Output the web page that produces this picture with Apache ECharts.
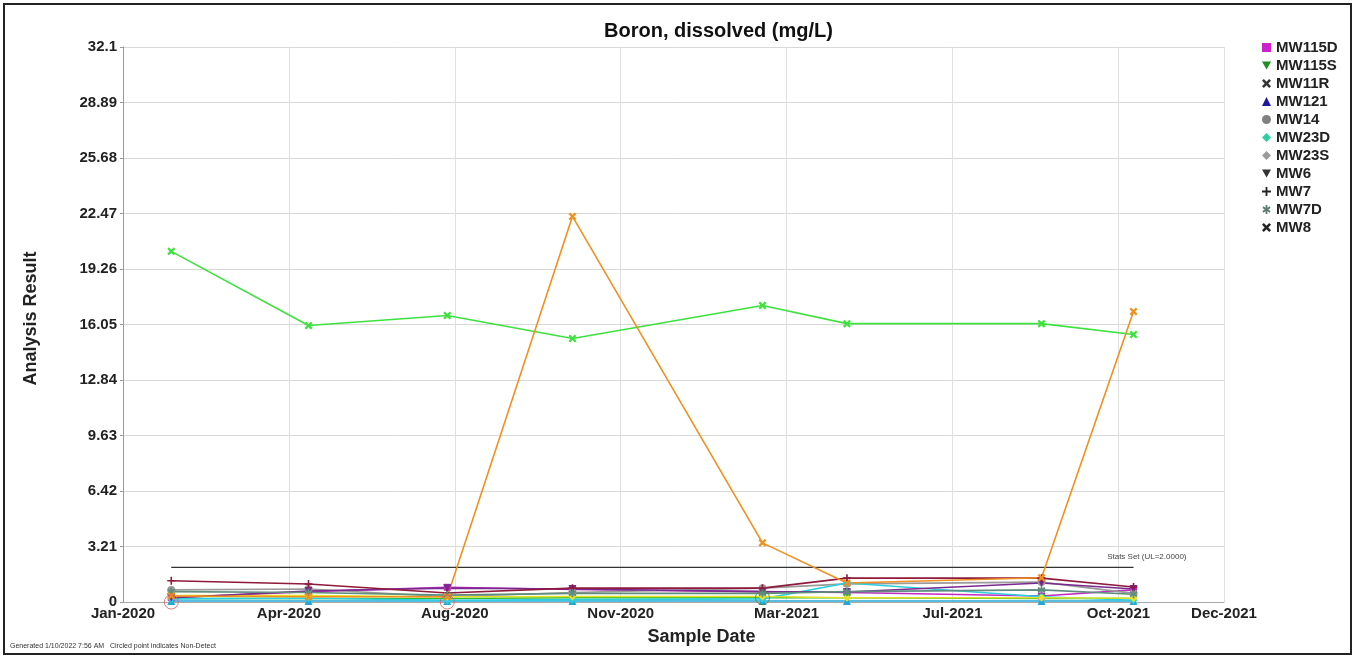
<!DOCTYPE html>
<html>
<head>
<meta charset="utf-8">
<script src="https://cdn.jsdelivr.net/npm/echarts@6/dist/echarts.min.js"></script>
<style>
  html, body { margin: 0; padding: 0; background: #fff; }
  #chart { width: 1355px; height: 658px; }
</style>
</head>
<body>
<div id="chart"></div>
<script>
  // sample dates (x axis), one value per date in each well
  const sampleDates = ['2020-02-02', '2020-05-03', '2020-08-03', '2020-10-25', '2021-02-28', '2021-04-25', '2021-09-01', '2021-11-01']

  const mw115d = [0.25, 0.6, 0.85, 0.72, 0.6, 0.55, 0.35, 0.7]
  const mw115s = [0.2, 0.2, 0.2, 0.25, 0.25, 0.25, 0.2, 0.2]
  const mw11r = [20.28, 15.99, 16.57, 15.24, 17.15, 16.1, 16.1, 15.47]
  const mw121 = [0.06, 0.06, 0.06, 0.06, 0.06, 0.06, 0.06, 0.06]
  const mw14 = [0.7, 0.75, 0.3, 0.55, 0.8, 1.05, 1.15, 0.5]
  const mw23d = [0.18, 0.22, 0.1, 0.14, 0.18, 1.1, 0.3, 0.1]
  const mw23s = [0.38, 0.38, 0.3, 0.32, 0.32, 0.25, 0.25, 0.22]
  const mw6 = [0.25, 0.64, 0.8, 0.75, 0.6, 0.58, 1.1, 0.75]
  const mw7 = [1.23, 1.04, 0.52, 0.8, 0.8, 1.38, 1.38, 0.87]
  const mw7d = [0.6, 0.55, 0.4, 0.5, 0.5, 0.6, 0.7, 0.45]
  const mw8 = [0.35, 0.3, 0.3, 22.3, 3.42, 1.1, 1.4, 16.8]

  // circled points = non-detects [date index, value]
  const nonDetects = [[0, 0], [2, 0], [4, 0.25]]
  const nonDetectColors = ['#e05a5a', '#e05a5a', '#5a7a3a']
  const statsLimit = 2.0

  const yMax = 32.1
  const yStep = 3.21

  const DAY = 86400000
  const xMin = Date.UTC(2020, 0, 1)
  const xMax = Date.UTC(2021, 11, 31)
  const xStep = 110 * DAY

  const months = ['Jan', 'Feb', 'Mar', 'Apr', 'May', 'Jun', 'Jul', 'Aug', 'Sep', 'Oct', 'Nov', 'Dec']
  const t = s => new Date(s + 'T00:00:00Z').getTime()
  const pts = vals => vals.map((v, i) => [t(sampleDates[i]), v])

  const xPath = 'path://M2,0 L5,3 L8,0 L10,2 L7,5 L10,8 L8,10 L5,7 L2,10 L0,8 L3,5 L0,2 Z'
  const plusPath = 'path://M4,0 H6 V4 H10 V6 H6 V10 H4 V6 H0 V4 H4 Z'
  const downTri = 'path://M0,0 L10,0 L5,9 Z'
  const starPath = 'path://M4,0 H6 V3 L8.5,1.5 L9.5,3.2 L7,5 L9.5,6.8 L8.5,8.5 L6,7 V10 H4 V7 L1.5,8.5 L0.5,6.8 L3,5 L0.5,3.2 L1.5,1.5 L4,3 Z'

  const wells = [
    { name: 'MW115D', data: mw115d, color: '#c02cc0', symbol: 'rect', legendColor: '#cc22cc', icon: 'rect' },
    { name: 'MW115S', data: mw115s, color: '#2fbf2f', symbol: downTri, legendColor: '#1f8f1f', icon: downTri },
    { name: 'MW11R', data: mw11r, color: '#3ee23e', symbol: xPath, legendColor: '#333', icon: xPath },
    { name: 'MW121', data: mw121, color: '#22a8d8', symbol: 'triangle', legendColor: '#1a1aa0', icon: 'triangle' },
    { name: 'MW14', data: mw14, color: '#9a9a9a', symbol: 'circle', legendColor: '#808080', icon: 'circle' },
    { name: 'MW23D', data: mw23d, color: '#2ad0e0', symbol: 'diamond', legendColor: '#2cd0a0', icon: 'diamond' },
    { name: 'MW23S', data: mw23s, color: '#e6e026', symbol: 'diamond', legendColor: '#9a9a9a', icon: 'diamond' },
    { name: 'MW6', data: mw6, color: '#7a2a8e', symbol: downTri, legendColor: '#333', icon: downTri },
    { name: 'MW7', data: mw7, color: '#8e1a3c', symbol: plusPath, legendColor: '#222', icon: plusPath },
    { name: 'MW7D', data: mw7d, color: '#5e8e7e', symbol: starPath, legendColor: '#5e7e72', icon: starPath },
    { name: 'MW8', data: mw8, color: '#f0901e', symbol: xPath, legendColor: '#222', icon: xPath }
  ]

  const chart = echarts.init(document.getElementById('chart'))

  const series = wells.map(w => ({
    name: w.name,
    type: 'line',
    data: pts(w.data),
    symbol: w.symbol,
    symbolSize: w.symbol === 'rect' ? 7 : 8,
    itemStyle: { color: w.color },
    lineStyle: { color: w.color, width: 1.6 },
    animation: false
  }))

  // stats set upper limit
  series.push({
    name: 'Stats Set',
    type: 'line',
    data: [[t(sampleDates[0]), statsLimit], [t(sampleDates[sampleDates.length - 1]), statsLimit]],
    symbol: 'none',
    lineStyle: { color: '#333', width: 1.3 },
    markPoint: {
      symbol: 'circle',
      symbolSize: 0,
      data: [{ coord: [t(sampleDates[sampleDates.length - 1]), statsLimit] }],
      label: {
        show: true,
        formatter: 'Stats Set (UL=2.0000)',
        position: 'left',
        offset: [58, -11],
        fontSize: 8,
        color: '#444',
        fontFamily: 'Arial, Liberation Sans'
      }
    },
    animation: false,
    z: 1
  })

  series.push({
    name: 'Non-Detect',
    type: 'scatter',
    data: nonDetects.map((d, i) => ({
      value: [t(sampleDates[d[0]]), d[1]],
      itemStyle: { borderColor: nonDetectColors[i] }
    })),
    symbol: 'circle',
    symbolSize: 14,
    itemStyle: { color: 'rgba(0,0,0,0)', borderWidth: 1 },
    animation: false,
    z: 3
  })

  chart.setOption({
    backgroundColor: '#fff',
    textStyle: { fontFamily: 'Arial, Liberation Sans, sans-serif' },
    title: {
      text: 'Boron, dissolved (mg/L)',
      left: 599,
      top: 16,
      textStyle: { fontSize: 20, fontWeight: 'bold', color: '#111' }
    },
    legend: {
      orient: 'vertical',
      left: 1257,
      top: 35,
      itemWidth: 9,
      itemHeight: 9,
      itemGap: 3,
      textStyle: { fontSize: 15, fontWeight: 'bold', color: '#222' },
      data: wells.map(w => ({
        name: w.name,
        icon: w.icon,
        itemStyle: { color: w.legendColor }
      }))
    },
    grid: {
      left: 123,
      right: 131,
      top: 47,
      bottom: 56
    },
    xAxis: {
      type: 'value',
      min: xMin,
      max: xMax,
      interval: xStep,
      name: 'Sample Date',
      nameLocation: 'middle',
      nameGap: 26,
      nameTextStyle: { fontSize: 18, fontWeight: 'bold', color: '#222', padding: [0, 0, 0, 56] },
      axisLine: { lineStyle: { color: '#aaa' } },
      axisTick: { show: false },
      axisLabel: {
        fontSize: 15,
        fontWeight: 'bold',
        color: '#222',
        margin: 4,
        formatter: v => {
          const d = new Date(v)
          return months[d.getUTCMonth()] + '-' + d.getUTCFullYear()
        }
      },
      splitLine: { show: true, lineStyle: { color: '#e0e0e0' } }
    },
    yAxis: {
      type: 'value',
      min: 0,
      max: yMax,
      interval: yStep,
      name: 'Analysis Result',
      nameLocation: 'middle',
      nameGap: 83,
      nameTextStyle: { fontSize: 18, fontWeight: 'bold', color: '#222', padding: [0, 0, 0, 12] },
      axisLine: { show: true, lineStyle: { color: '#999' } },
      axisTick: { show: true, length: 3, lineStyle: { color: '#999' } },
      axisLabel: {
        fontSize: 15,
        fontWeight: 'bold',
        color: '#222',
        margin: 6,
        formatter: v => String(+v.toFixed(2))
      },
      splitLine: { show: true, lineStyle: { color: '#d8d8d8' } }
    },
    graphic: [
      {
        type: 'rect',
        shape: { x: 4, y: 4, width: 1347, height: 650 },
        style: { fill: 'none', stroke: '#222', lineWidth: 2 },
        silent: true
      },
      {
        type: 'text',
        left: 10,
        top: 643,
        style: {
          text: 'Generated 1/10/2022 7:56 AM   Circled point indicates Non-Detect',
          fontSize: 7,
          fill: '#333'
        }
      }
    ],
    series: series
  })
</script>
</body>
</html>
